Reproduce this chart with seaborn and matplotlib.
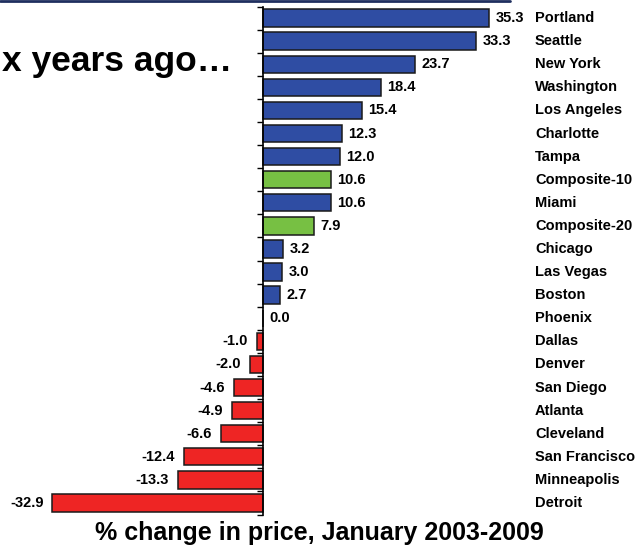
import numpy as np
import matplotlib
matplotlib.use('Agg')
import matplotlib.pyplot as plt
import seaborn as sns
from matplotlib.lines import Line2D

# Data
cities = ['Portland', 'Seattle', 'New York', 'Washington', 'Los Angeles', 'Charlotte',
          'Tampa', 'Composite-10', 'Miami', 'Composite-20', 'Chicago', 'Las Vegas',
          'Boston', 'Phoenix', 'Dallas', 'Denver', 'San Diego', 'Atlanta', 'Cleveland',
          'San Francisco', 'Minneapolis', 'Detroit']
changes = [35.3, 33.3, 23.7, 18.4, 15.4, 12.3, 12.0, 10.6, 10.6, 7.9, 3.2, 3.0,
           2.7, 0.0, -1.0, -2.0, -4.6, -4.9, -6.6, -12.4, -13.3, -32.9]
composites = ['Composite-10', 'Composite-20']

blue = '#2F4DA3'
green = '#77C043'
red = '#EE2524'
colors = [green if c in composites else (red if v < 0 else blue)
          for c, v in zip(cities, changes)]

sns.set_style('white')
plt.rcParams['font.family'] = ['Liberation Sans', 'DejaVu Sans']
plt.rcParams['text.color'] = 'black'

W, H = 644, 545
fig = plt.figure(figsize=(W / 100, H / 100), dpi=100)
ax = fig.add_axes([0, 1 - 514.5 / H, 1, (514.5 - 6.5) / H])

sns.barplot(x=changes, y=cities, hue=cities, palette=colors, legend=False,
            orient='h', width=0.75, saturation=1, edgecolor='#1a1a1a',
            linewidth=1.1, ax=ax)

# pixel scale: zero at x=263, 6.4 px per percentage point
scale = 6.4
ax.set_xlim(-263 / scale, (W - 263) / scale)
ax.set_ylim(len(cities) - 0.5, -0.5)

for s in ['top', 'right', 'bottom']:
    ax.spines[s].set_visible(False)
ax.spines['left'].set_position(('data', 0))
ax.spines['left'].set_color('black')
ax.spines['left'].set_linewidth(1.2)
ax.set_xticks([])
ax.set_yticks(np.arange(-0.5, len(cities), 1))
ax.set_yticklabels([])
ax.tick_params(axis='y', direction='out', length=4, width=1, color='black', left=True)
ax.set_xlabel('')
ax.set_ylabel('')

name_x = (535 - 263) / scale
for i, (c, v) in enumerate(zip(cities, changes)):
    if v >= 0:
        ax.text(v + 1.0, i, f'{v:.1f}', ha='left', va='center',
                fontsize=10.5, fontweight='bold', color='black')
    else:
        ax.text(v - 1.4, i, f'{v:.1f}', ha='right', va='center',
                fontsize=10.5, fontweight='bold', color='black')
    ax.text(name_x, i, c, ha='left', va='center', fontsize=10.5,
            fontweight='bold', color='black')

fig.text(2 / W, 1 - 71 / H, 'x years ago…', ha='left', va='baseline',
         fontsize=25.5, fontweight='bold', color='black')
fig.text(319 / W, 1 - 540 / H, '% change in price, January 2003-2009',
         ha='center', va='baseline', fontsize=18, fontweight='bold', color='black')

fig.add_artist(Line2D([0, 510 / W], [1 - 1 / H, 1 - 1 / H], color='#1F2F5F',
                      linewidth=2, transform=fig.transFigure))

fig.savefig('out.png', dpi=100)
